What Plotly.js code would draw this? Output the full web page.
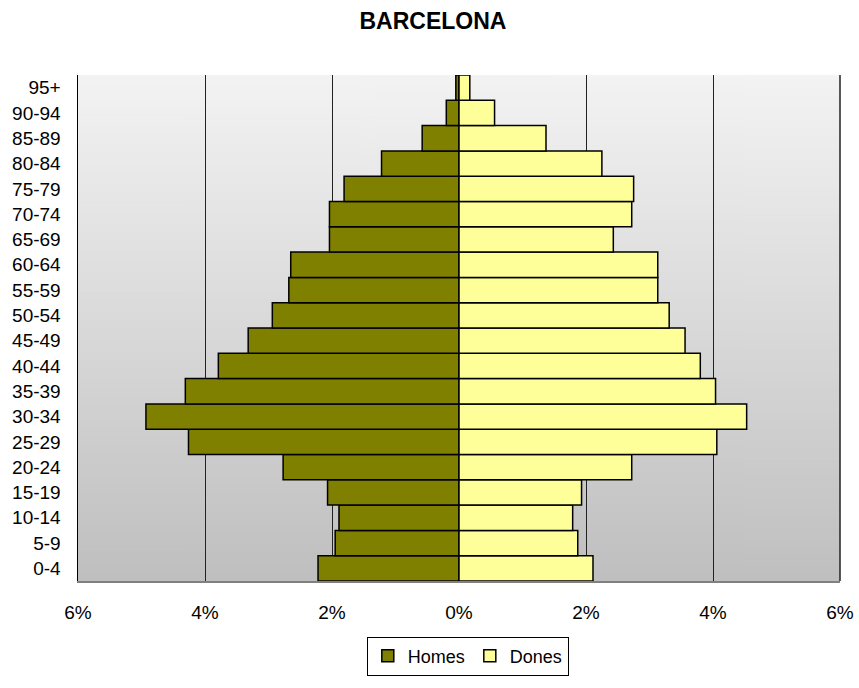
<!DOCTYPE html>
<html>
<head>
<meta charset="utf-8">
<script src="https://cdn.plot.ly/plotly-3.0.1.min.js"></script>
<style>html,body{margin:0;padding:0;background:#fff;}#chart{width:859px;height:688px;}</style>
</head>
<body>
<div id="chart"></div>
<script>
const ageGroups = ['0-4','5-9','10-14','15-19','20-24','25-29','30-34','35-39','40-44','45-49','50-54','55-59','60-64','65-69','70-74','75-79','80-84','85-89','90-94','95+'];
const homes = [2.22,1.95,1.89,2.07,2.77,4.26,4.93,4.31,3.79,3.32,2.94,2.68,2.65,2.04,2.04,1.81,1.22,0.58,0.20,0.05];
const dones = [2.11,1.87,1.79,1.93,2.72,4.06,4.53,4.04,3.80,3.56,3.31,3.13,3.13,2.43,2.72,2.75,2.25,1.37,0.56,0.17];
const tickVals = [-6,-4,-2,0,2,4,6];
const tickText = ['6%','4%','2%','0%','2%','4%','6%'];

// gradient background image
const cv = document.createElement('canvas');
cv.width = 4; cv.height = 256;
const cx = cv.getContext('2d');
const g = cx.createLinearGradient(0,0,0,256);
g.addColorStop(0,'#f3f3f3');
g.addColorStop(1,'#bfbfbf');
cx.fillStyle = g; cx.fillRect(0,0,4,256);
const bg = cv.toDataURL('image/png');

const font = 'Liberation Sans, Arial, sans-serif';
const traces = [
  {type:'bar', orientation:'h', name:'Homes', y:ageGroups, x:homes.map(v=>-v),
   marker:{color:'#808000', line:{color:'#000', width:1.5}}},
  {type:'bar', orientation:'h', name:'Dones', y:ageGroups, x:dones,
   marker:{color:'#FFFF99', line:{color:'#000', width:1.5}}}
];
const layout = {
  width:859, height:688,
  margin:{l:78, r:19, t:75, b:101},
  paper_bgcolor:'#fff', plot_bgcolor:'rgba(0,0,0,0)',
  barmode:'overlay', bargap:0,
  font:{family:font, color:'#000', size:19},
  title:{text:'<b>BARCELONA</b>', font:{family:font, size:23, color:'#000'}, xref:'container', x:0.504, xanchor:'center', yref:'container', y:0.97, yanchor:'middle'},
  xaxis:{range:[-6,6], tickvals:tickVals, ticktext:tickText, showgrid:true, gridcolor:'#222', gridwidth:1,
         zeroline:false, showline:true, linecolor:'#808080', linewidth:1.5, ticks:'', ticklabelstandoff:14,
         tickfont:{size:19}, fixedrange:true},
  yaxis:{range:[-0.5,19.5], type:'category', showgrid:false, zeroline:false, showline:true, linecolor:'#000', linewidth:1.5,
         ticks:'', ticklabelstandoff:12, tickfont:{size:19}},
  shapes:[{type:'line', xref:'paper', yref:'paper', x0:1, x1:1, y0:0, y1:1, line:{color:'#222', width:1.5}}],
  images:[{source:bg, xref:'paper', yref:'paper', x:0, y:1, sizex:1, sizey:1, sizing:'stretch', layer:'below', xanchor:'left', yanchor:'top'}],
  showlegend:true,
  legend:{orientation:'h', x:0.379, xanchor:'left', y:-0.11, yanchor:'top', bgcolor:'#fff', bordercolor:'#000', borderwidth:1,
          font:{size:18}, traceorder:'normal'}
};
Plotly.newPlot('chart', traces, layout, {displayModeBar:false, staticPlot:true});
</script>
</body>
</html>
